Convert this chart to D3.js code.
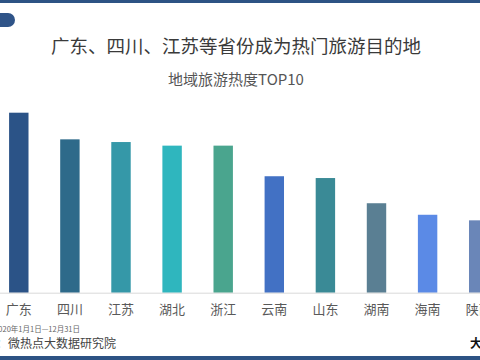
<!DOCTYPE html>
<html><head><meta charset="utf-8">
<script src="https://cdn.jsdelivr.net/npm/d3@7"></script>
<style>html,body{margin:0;padding:0;background:#fff;overflow:hidden}svg{display:block}</style>
</head><body>
<script>
const categories = ["广东","四川","江苏","湖北","浙江","云南","山东","湖南","海南","陕西"];
const values = [100, 85.2, 83.7, 81.7, 81.7, 64.7, 63.7, 49.7, 43.3, 40.2];
const colors = ["#2b5387","#2e6a8a","#3598a8","#2fb6be","#4aa58e","#4271c4","#3a8a96","#5a7f93","#5b8ae6","#6a86b8"];
const title = "广东、四川、江苏等省份成为热门旅游目的地";
const subtitle = "地域旅游热度TOP10";
const dateText = "2020年1月1日—12月31日";
const sourceText = "数据来源：微热点大数据研究院";

const W = 480, H = 360;
const font = "'Noto Sans CJK SC', 'Noto Sans', sans-serif";
const svg = d3.select("body").append("svg").attr("width", W).attr("height", H);

// decorative bands
svg.append("rect").attr("x",0).attr("y",0).attr("width",W).attr("height",3).attr("fill","#2d5384");
svg.append("rect").attr("x",-20).attr("y",13).attr("width",35).attr("height",14).attr("rx",7).attr("fill","#2f5488");
svg.append("rect").attr("x",0).attr("y",356).attr("width",W).attr("height",4).attr("fill","#2d5384");

svg.append("text").attr("x",236).attr("y",53).attr("text-anchor","middle")
  .attr("font-family",font).attr("font-size",18.5).attr("fill","#3a3a3a").text(title);
svg.append("text").attr("x",236).attr("y",85).attr("text-anchor","middle")
  .attr("font-family",font).attr("font-size",15).attr("fill","#555").text(subtitle);

const x = d3.scaleBand().domain(categories).range([-6.75, 504.25]).paddingInner(0.62).paddingOuter(0.31);
const y = d3.scaleLinear().domain([0, 100]).range([292.7, 112.7]);

svg.append("g").selectAll("rect").data(categories).join("rect")
  .attr("x", d => x(d)).attr("width", x.bandwidth())
  .attr("y", (d,i) => y(values[i])).attr("height", (d,i) => y(0) - y(values[i]))
  .attr("fill", (d,i) => colors[i]);

const ax = svg.append("g").attr("transform", `translate(0,${y(0)})`)
  .call(d3.axisBottom(x).tickSize(0).tickPadding(12));
ax.select(".domain").attr("stroke","#d9d9d9").attr("d", `M0,0.5H${W}`);
ax.selectAll("text").attr("font-family",font).attr("font-size",13).attr("fill","#595959");

svg.append("text").attr("x",80).attr("y",332).attr("text-anchor","end")
  .attr("font-family",font).attr("font-size",7.5).attr("fill","#666").text(dateText);
svg.append("text").attr("x",116).attr("y",347.5).attr("text-anchor","end")
  .attr("font-family",font).attr("font-size",12).attr("fill","#444").text(sourceText);
svg.append("text").attr("x",470).attr("y",347.5)
  .attr("font-family",font).attr("font-size",12).attr("font-weight","bold").attr("fill","#111").text("大");
</script>
</body></html>
